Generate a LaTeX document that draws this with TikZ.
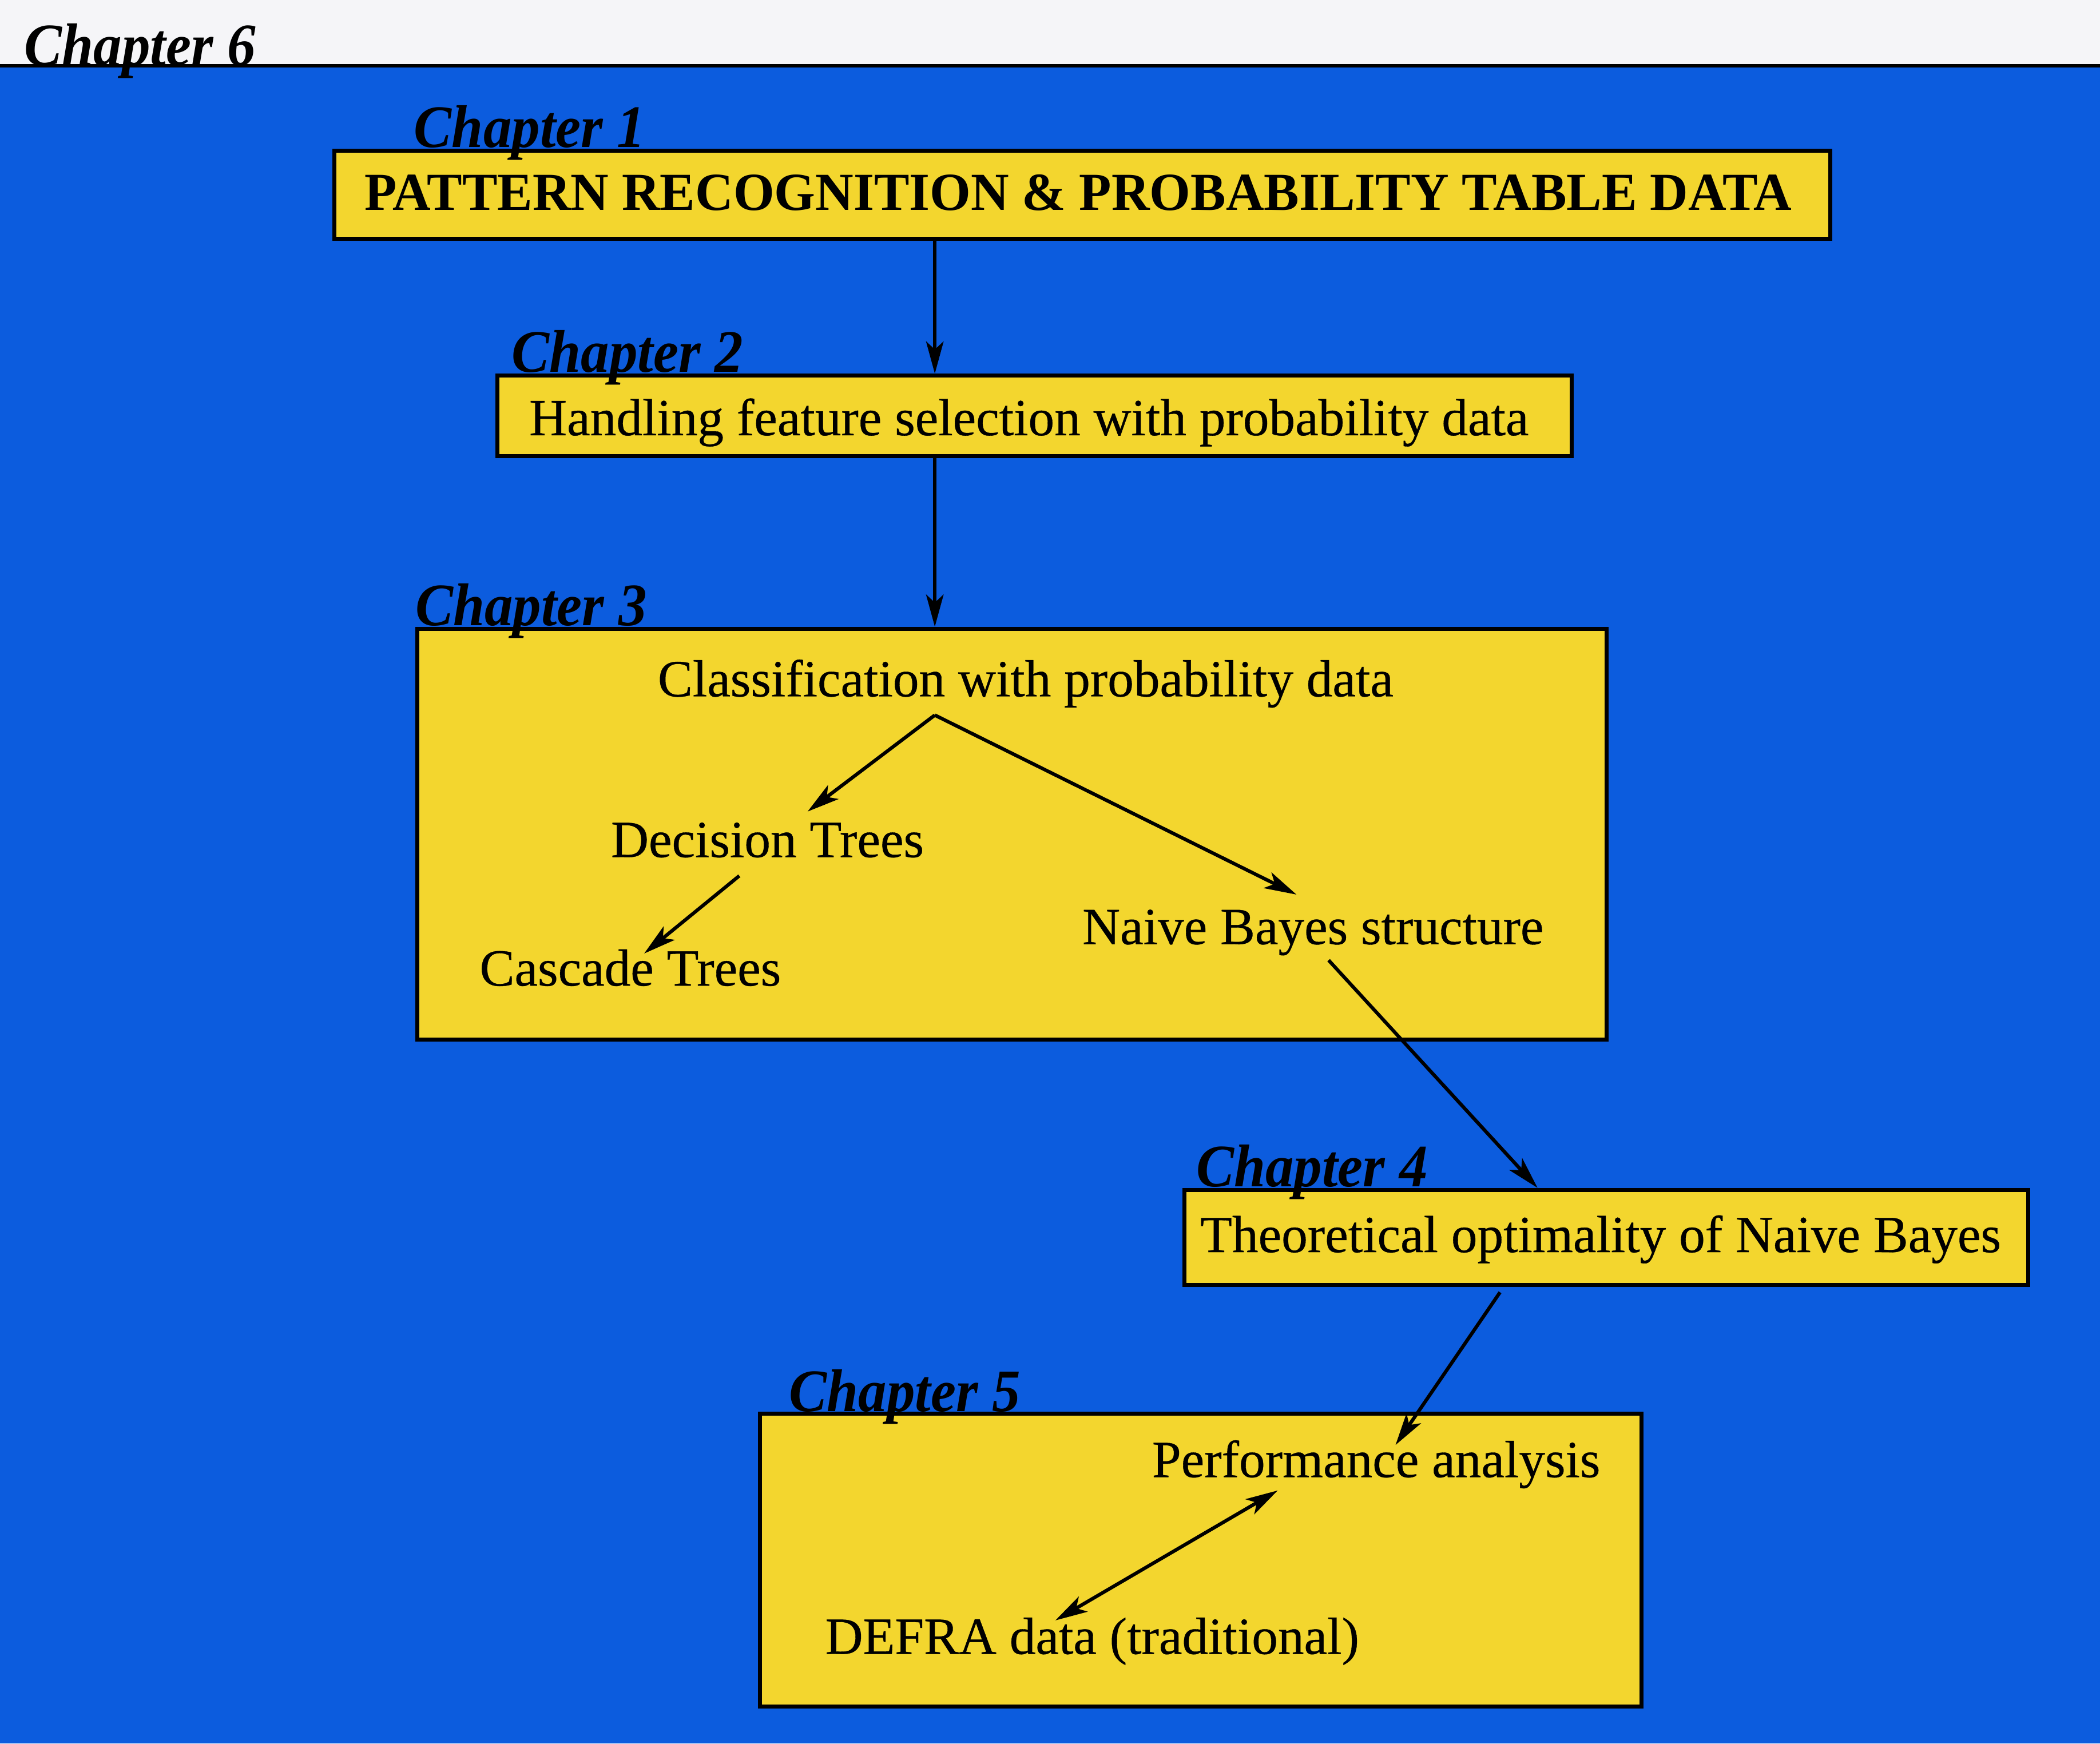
\documentclass[tikz,border=0pt]{standalone}
\usepackage{fontspec}
\setmainfont{Liberation Serif}[FakeBold=0.4]
\newfontfamily\titlefont{Liberation Serif}[FakeStretch=0.985]
\newfontfamily\chapfont{Liberation Serif}[FakeStretch=0.94]
\usetikzlibrary{arrows.meta,calc}
\definecolor{bgblue}{RGB}{12,92,222}
\definecolor{boxyellow}{RGB}{243,214,46}
\definecolor{paper}{RGB}{245,245,248}
\begin{document}
\begin{tikzpicture}[x=1pt,y=-1pt,
  chbox/.style={draw=black, fill=boxyellow, line width=3pt, inner sep=0pt, anchor=north west},
  chlabel/.style={anchor=base west, inner sep=0pt, font=\chapfont\bfseries\itshape\fontsize{45}{50}\selectfont},
  body/.style={anchor=base west, inner sep=0pt, font=\fontsize{39}{44}\selectfont},
  title/.style={anchor=base west, inner sep=0pt, font=\titlefont\bfseries\fontsize{40}{45}\selectfont},
  arr/.style={line width=2.6pt, -{Stealth[length=24pt,width=13pt,inset=6pt]}},
  dblarr/.style={line width=2.6pt, {Stealth[length=24pt,width=13pt,inset=6pt]}-{Stealth[length=24pt,width=13pt,inset=6pt]}}
]
\useasboundingbox (0,0) rectangle (1568,1302);

% page band and blue field
\fill[paper] (0,0) rectangle (1568,49);
\fill[bgblue] (0,49) rectangle (1568,1302);
\draw[line width=2.5pt] (0,49) -- (1568,49);

% chapter boxes
\node[chbox, minimum width=1117pt, minimum height=66pt] (c1) at (248,111) {};
\node[chbox, minimum width=802pt, minimum height=60pt] (c2) at (370,279) {};
\node[chbox, minimum width=888pt, minimum height=307pt] (c3) at (310,468) {};
\node[chbox, minimum width=630pt, minimum height=71pt] (c4) at (883,887) {};
\node[chbox, minimum width=658pt, minimum height=219pt] (c5) at (566,1054) {};

% chapter labels
\node[chlabel] (l6) at (18,49) {Chapter 6};
\node[chlabel] (l1) at (309,110) {Chapter 1};
\node[chlabel] (l2) at (382,278) {Chapter 2};
\node[chlabel] (l3) at (310,467) {Chapter 3};
\node[chlabel] (l4) at (893,886) {Chapter 4};
\node[chlabel] (l5) at (589,1054) {Chapter 5};

% box contents
\node[title] (pr) at (272,157) {PATTERN RECOGNITION \& PROBABILITY TABLE DATA};
\node[body] (fs) at (395,325) {Handling feature selection with probability data};
\node[body] (cl) at (491,520) {Classification with probability data};
\node[body] (dt) at (456,640) {Decision Trees};
\node[body] (ct) at (358,736) {Cascade Trees};
\node[body] (nb) at (808,705) {Naive Bayes structure};
\node[body] (to) at (896,935) {Theoretical optimality of Naive Bayes};
\node[body] (pa) at (860,1103) {Performance analysis};
\node[body] (df) at (616,1235) {DEFRA data (traditional)};

\coordinate (fork) at ([xshift=207pt,yshift=-14pt]cl.base west);

% connectors
\draw[arr] (c1.south -| fork) -- (c2.north -| fork);
\draw[arr] (c2.south -| fork) -- (c3.north -| fork);
\draw[arr] (fork) -- ([xshift=147pt,yshift=34pt]dt.base west);
\draw[arr] (fork) -- ([xshift=160pt,yshift=37pt]nb.base west);
\draw[arr] ([xshift=96pt,yshift=-14pt]dt.base west) -- ([xshift=123pt,yshift=24pt]ct.base west);
\draw[arr] ([xshift=184pt,yshift=-12pt]nb.base west) -- ([xshift=265pt]c4.north west);
\draw[arr] ([xshift=237pt,yshift=-4pt]c4.south west) -- ([xshift=182pt,yshift=24pt]pa.base west);
\draw[dblarr] ([xshift=94pt,yshift=-10pt]pa.base west) -- ([xshift=172pt,yshift=25pt]df.base west);
\end{tikzpicture}
\end{document}
